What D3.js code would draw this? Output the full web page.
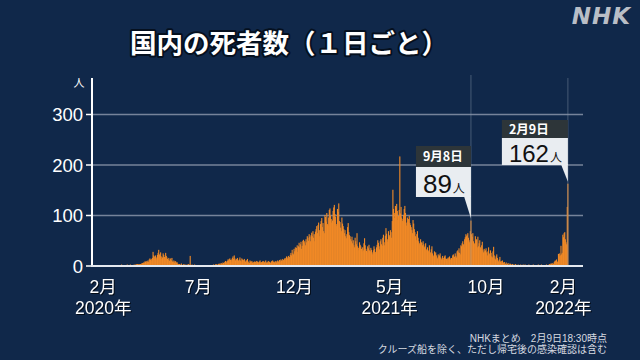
<!DOCTYPE html>
<html><head><meta charset="utf-8">
<script src="https://cdn.jsdelivr.net/npm/d3@7/dist/d3.min.js"></script>
<style>
html,body{margin:0;padding:0;background:#10284a;}
svg{display:block;}
text{font-family:"Liberation Sans","Noto Sans CJK JP",sans-serif;}
</style></head>
<body>
<svg id="c" width="640" height="360"></svg>
<script>
// ---- data (daily deaths) ----
const startDate = "2020-02-01";
const m2020_02 = [0,0,0,0,0,0,0,0,0,0,0,0,1,0,0,0,0,0,0,0,0,0,0,0,0,1,0,1,0];
const m2020_03 = [1,2,0,1,0,1,0,1,0,1,2,1,0,1,1,2,1,1,0,1,1,2,0,1,3,2,3,3,2,2,3];
const m2020_04 = [3,2,4,5,3,6,5,8,7,9,6,8,10,7,12,14,11,13,10,15,27,20,18,13,20,16,12,21,25,31];
const m2020_05 = [22,19,26,18,13,16,24,21,17,14,25,19,16,13,11,15,9,12,14,10,15,8,7,10,6,9,8,5,7,4,3];
const m2020_06 = [2,3,1,2,4,1,0,2,3,1,2,1,0,2,1,3,2,1,19,1,0,2,1,0,1,2,0,1,0,1];
const m2020_07 = [0,1,0,0,1,0,1,0,0,1,0,1,0,0,1,0,0,1,0,0,1,0,0,1,0,2,1,0,2,3,2];
const m2020_08 = [2,1,3,4,3,2,5,4,3,6,5,4,7,9,8,6,9,12,10,13,14,11,8,12,15,18,13,20,14,10,12];
const m2020_09 = [13,15,11,9,12,16,10,8,14,12,9,11,13,10,7,9,11,13,8,6,5,10,8,7,9,6,5,7,8,6];
const m2020_10 = [7,9,6,8,5,7,8,10,6,7,5,8,9,7,6,8,10,5,7,6,9,8,7,5,6,8,9,10,7,8,6];
const m2020_11 = [7,9,6,8,10,7,9,11,8,12,10,9,13,11,10,14,12,15,18,13,16,19,14,17,21,25,20,31,24,22];
const m2020_12 = [33,28,36,30,35,40,27,38,45,36,42,47,33,39,49,51,44,48,40,52,46,58,55,49,62,57,48,60,65,58,68];
const m2021_01 = [55,62,48,67,72,78,64,80,85,70,58,82,88,94,76,84,68,64,100,96,87,104,82,79,95,110,113,99,92,85,89];
const m2021_02 = [108,115,120,102,96,82,78,112,106,123,88,86,75,68,95,83,78,72,64,70,58,54,62,76,84,66,60,58];
const m2021_03 = [52,48,57,44,50,40,36,55,48,42,64,38,35,30,46,41,38,33,28,36,30,44,54,40,33,29,26,38,34,41,30];
const m2021_04 = [28,35,31,26,22,30,38,33,27,24,36,41,50,45,38,32,48,52,42,39,55,61,46,40,59,74,63,52,47,68];
const m2021_05 = [57,60,70,66,55,88,150,112,94,104,118,115,122,108,90,98,110,216,103,116,95,88,92,100,112,118,104,85,79,95,86];
const m2021_06 = [92,98,84,80,76,70,64,90,83,72,66,58,50,62,68,55,48,44,40,52,46,45,40,48,42,36,38,44,32,30];
const m2021_07 = [36,30,28,40,22,26,32,38,24,20,18,28,22,26,20,16,14,22,18,20,24,16,12,14,19,15,11,18,20,14,13];
const m2021_08 = [10,14,16,12,18,14,11,15,13,20,22,18,17,24,19,16,28,30,26,34,25,22,40,38,44,48,42,36,52,56,62];
const m2021_09 = [58,60,64,55,50,46,68,89,62,57,64,48,42,44,58,50,52,36,57,38,44,50,36,32,40,47,30,26,33,28];
const m2021_10 = [30,34,26,20,28,36,24,22,30,25,18,16,28,37,20,14,12,18,22,15,10,8,12,17,8,6,9,10,5,6,7];
const m2021_11 = [4,3,6,2,3,5,1,2,4,3,2,1,3,2,0,1,2,3,1,0,1,2,1,0,1,2,1,0,1,2];
const m2021_12 = [0,1,2,1,0,1,0,1,2,0,1,0,1,1,0,2,1,0,1,0,1,0,1,2,0,1,0,1,2,1,0];
const m2022_01 = [0,1,0,1,0,2,1,0,1,2,3,2,4,3,5,2,3,6,8,10,9,12,7,8,23,18,24,20,39,22,25];
const m2022_02 = [61,56,64,66,52,46,42,116,162];

const yTicks = [0, 100, 200, 300];
const xTickDates = ["2020-02-01","2020-07-01","2020-12-01","2021-05-01","2021-10-01","2022-02-01"];
const xTickMonths = ["2月","7月","12月","5月","10月","2月"];
const xTickYears = ["2020年","","","2021年","","2022年"];
const callouts = [
  {date:"2021-09-08", label:"9月8日", value:89},
  {date:"2022-02-09", label:"2月9日", value:162}
];

// ---- build ----
const parse = d3.utcParse("%Y-%m-%d");
const allMonths = [m2020_02,m2020_03,m2020_04,m2020_05,m2020_06,m2020_07,m2020_08,m2020_09,m2020_10,m2020_11,m2020_12,
  m2021_01,m2021_02,m2021_03,m2021_04,m2021_05,m2021_06,m2021_07,m2021_08,m2021_09,m2021_10,m2021_11,m2021_12,
  m2022_01,m2022_02];
const values = allMonths.flat();
const t0 = parse(startDate);
const data = values.map((v,i)=>({date:d3.utcDay.offset(t0,i), v}));

const svg = d3.select("#c");
const x = d3.scaleUtc().domain([parse("2020-01-15"), parse("2022-03-05")]).range([92, 583]);
const y = d3.scaleLinear().domain([0, 300]).range([265.5, 114]);

// gridlines
svg.append("g")
  .attr("transform","translate(92,0)")
  .call(d3.axisLeft(y).tickValues(yTicks.filter(d=>d>0)).tickSize(-(583-92)).tickFormat(""))
  .call(g=>g.select(".domain").remove())
  .call(g=>g.selectAll("line").attr("stroke","#76839a").attr("stroke-width",1.3));

// bars
svg.append("g").selectAll("rect").data(data).join("rect")
  .attr("x", d=>x(d.date)-0.55)
  .attr("width", 1.1)
  .attr("y", d=>y(d.v))
  .attr("height", d=>y(0)-y(d.v))
  .attr("fill", "#f28a26");

// callout vertical lines
svg.append("g").selectAll("line").data(callouts).join("line")
  .attr("x1", d=>x(parse(d.date))).attr("x2", d=>x(parse(d.date)))
  .attr("y1", (d,i)=> i===0 ? 75 : 78).attr("y2", y(0))
  .attr("stroke","#8a97aa").attr("stroke-opacity",0.45).attr("stroke-width",1);

// y axis
const yAxis = svg.append("g")
  .attr("transform","translate(92,0)")
  .call(d3.axisLeft(y).tickValues(yTicks).tickSize(6).tickPadding(3))
  .call(g=>g.select(".domain").remove());
yAxis.selectAll("line").attr("stroke","#ffffff").attr("stroke-width",1.5);
yAxis.selectAll("text").attr("fill","#ffffff").style("font-size","18.5px")
  .style("font-family","'Liberation Sans',Arial,sans-serif").attr("dy","0.36em");
svg.append("line").attr("x1",92).attr("x2",92).attr("y1",78).attr("y2",266.5)
  .attr("stroke","#ffffff").attr("stroke-width",2);
svg.append("line").attr("x1",91).attr("x2",583).attr("y1",266).attr("y2",266)
  .attr("stroke","#e4e9f0").attr("stroke-width",2);
svg.append("text").attr("x",79).attr("y",87).attr("text-anchor","middle")
  .attr("fill","#ffffff").style("font-size","11px").style("font-family","'Noto Sans CJK JP'").text("人");

// x axis labels
const xg = svg.append("g").attr("transform",`translate(0,${y(0)})`)
  .call(d3.axisBottom(x).tickValues(xTickDates.map(parse)).tickSize(0).tickPadding(0)
        .tickFormat((d,i)=>xTickMonths[i]))
  .call(g=>g.select(".domain").remove());
xg.selectAll("text").attr("dy",0).attr("y",27.5).attr("fill","#ffffff")
  .style("font-size","17.5px").style("font-family","'Liberation Sans','Noto Sans CJK JP',sans-serif")
  .style("filter","drop-shadow(1px 1px 0.5px rgba(0,0,0,0.7))");
xg.selectAll(".tick").append("text").attr("y",48.5).attr("fill","#ffffff").attr("text-anchor","middle")
  .style("font-size","17.5px").style("font-family","'Liberation Sans','Noto Sans CJK JP',sans-serif")
  .style("filter","drop-shadow(1px 1px 0.5px rgba(0,0,0,0.7))")
  .text((d,i)=>xTickYears[i]);

// callouts
const boxes = [
  {w:55, hTop:21, hBody:30, top:146, numSize:26, base:26},
  {w:66, hTop:18, hBody:27, top:120, numSize:24, base:24}
];
callouts.forEach((c,i)=>{
  const b = boxes[i];
  const xr = x(parse(c.date));
  const xl = xr - b.w;
  const g = svg.append("g");
  const bodyTop = b.top + b.hTop, bodyBot = bodyTop + b.hBody;
  g.append("path").attr("d",`M${xr-7},${bodyBot-1} L${xr},${bodyBot-1} L${xr},${y(c.value)-2} Z`).attr("fill","#e9edf1");
  g.append("rect").attr("x",xl).attr("y",b.top).attr("width",b.w).attr("height",b.hTop).attr("fill","#2d3539");
  g.append("rect").attr("x",xl).attr("y",bodyTop).attr("width",b.w).attr("height",b.hBody).attr("fill","#e9edf1");
  g.append("text").attr("x",xl+7).attr("y",b.top+b.hTop/2+4.5).attr("fill","#ffffff")
    .style("font-size","12.5px").style("font-weight","bold").style("font-family","'Noto Sans CJK JP',sans-serif").text(c.label);
  const t = g.append("text").attr("x",xl+7).attr("y",bodyTop+b.base).attr("fill","#111");
  t.append("tspan").style("font-size",b.numSize+"px")
    .style("font-family","'Liberation Sans',Arial,sans-serif").text(c.value);
  t.append("tspan").attr("dx",1).style("font-size","12px").style("font-family","'Liberation Sans','Noto Sans CJK JP',sans-serif").text("人");
});

// title
svg.append("text").attr("x",130).attr("y",53)
  .attr("fill","#ffffff").attr("stroke","#05101f").attr("stroke-width",4).attr("paint-order","stroke")
  .attr("stroke-linejoin","round")
  .style("font-size","26.5px").style("font-weight","bold").style("font-family","'Noto Sans CJK JP',sans-serif")
  .text("国内の死者数（１日ごと）");

// NHK logo
svg.append("text").attr("x",631).attr("y",24).attr("text-anchor","end")
  .attr("fill","#b9bec6").style("font-size","23px").style("font-weight","bold").style("font-style","italic")
  .style("font-family","'DejaVu Sans',sans-serif").style("letter-spacing","1px").text("NHK");

// footer notes
const foot = svg.append("g").attr("fill","#d6dae0").style("font-size","10px")
  .style("font-family","'Noto Sans CJK JP',sans-serif").attr("text-anchor","end");
foot.append("text").attr("x",607).attr("y",342).text("NHKまとめ　2月9日18:30時点");
foot.append("text").attr("x",607).attr("y",353).text("クルーズ船を除く、ただし帰宅後の感染確認は含む");
</script>
</body></html>
